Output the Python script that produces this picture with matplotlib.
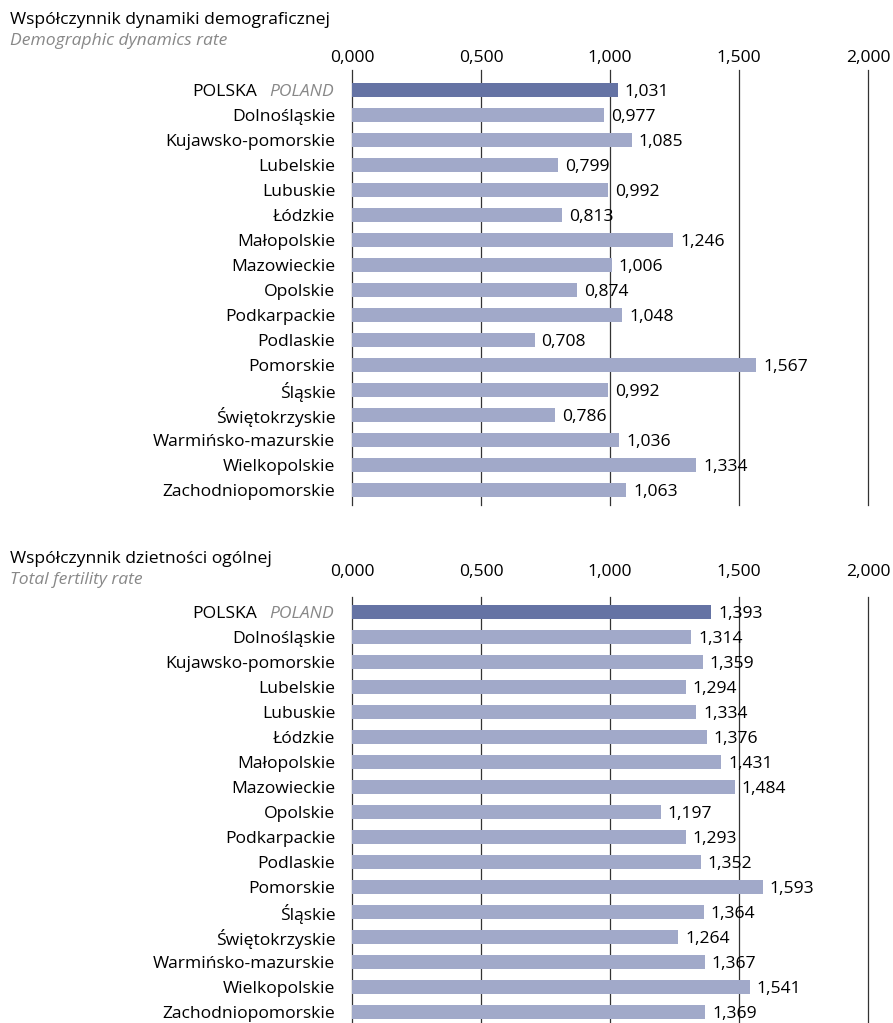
import matplotlib.pyplot as plt
import numpy as np

plt.rcParams['font.family'] = ['Open Sans', 'DejaVu Sans']

regions = ['POLSKA', 'Dolnośląskie', 'Kujawsko-pomorskie', 'Lubelskie', 'Lubuskie',
           'Łódzkie', 'Małopolskie', 'Mazowieckie', 'Opolskie', 'Podkarpackie',
           'Podlaskie', 'Pomorskie', 'Śląskie', 'Świętokrzyskie',
           'Warmińsko-mazurskie', 'Wielkopolskie', 'Zachodniopomorskie']

dynamics = [1.031, 0.977, 1.085, 0.799, 0.992, 0.813, 1.246, 1.006, 0.874,
            1.048, 0.708, 1.567, 0.992, 0.786, 1.036, 1.334, 1.063]

fertility = [1.393, 1.314, 1.359, 1.294, 1.334, 1.376, 1.431, 1.484, 1.197,
             1.293, 1.352, 1.593, 1.364, 1.264, 1.367, 1.541, 1.369]

xticks = [0.0, 0.5, 1.0, 1.5, 2.0]

W, H = 893, 1023
fig = plt.figure(figsize=[W / 100, H / 100], dpi=100)

dark = '#6573a4'
light = '#a1a9c9'
grey = '#888888'
fs = 12.6


def fmt(v):
    return f'{v:.3f}'.replace('.', ',')


def panel(top_px, bot_px, ylim, values, title, subtitle, title_y, pad):
    ax = fig.add_axes([352 / W, 1 - bot_px / H, (868 - 352) / W, (bot_px - top_px) / H])
    y = np.arange(len(regions))
    colors = [dark] + [light] * (len(regions) - 1)
    ax.barh(y, values, height=0.54, color=colors, zorder=2)
    for yi, v in zip(y, values):
        ax.annotate(fmt(v), (v, yi), xytext=(5, 0), textcoords='offset points',
                    va='center_baseline', ha='left', fontsize=fs, zorder=3)
    ax.set_xlim(0, 2.0)
    ax.set_ylim(*ylim)
    ax.set_xticks(xticks)
    ax.set_xticklabels([fmt(t) for t in xticks], fontsize=fs)
    ax.xaxis.tick_top()
    ax.tick_params(axis='x', length=0, pad=pad)
    ax.set_yticks(y[1:])
    ax.set_yticklabels(regions[1:], fontsize=fs, va='center_baseline')
    ax.tick_params(axis='y', length=0, pad=12)
    for s in ax.spines.values():
        s.set_visible(False)
    for t in xticks:
        ax.axvline(t, color='#333333', lw=0.9, zorder=1, clip_on=False)
    # POLSKA / POLAND label
    pl = ax.annotate('POLAND', (0, 0), xytext=(-13, 0), textcoords='offset points',
                     ha='right', va='center_baseline', fontsize=fs,
                     style='italic', color=grey)
    ax.annotate('POLSKA', (0, 0), xycoords=pl, xytext=(-9, 0),
                textcoords='offset points', ha='right', va='bottom', fontsize=fs)
    fig.text(10 / W, 1 - title_y / H, title, fontsize=fs, va='center')
    fig.text(10 / W, 1 - (title_y + 21) / H, subtitle, fontsize=fs, va='center',
             style='italic', color=grey)
    return ax


panel(70, 505, (16.6, -0.8), dynamics,
      'Współczynnik dynamiki demograficznej', 'Demographic dynamics rate', 20, 3)
panel(597, 1023, (16.44, -0.6), fertility,
      'Współczynnik dzietności ogólnej', 'Total fertility rate', 559, 12)

fig.savefig('out.png', dpi=100)
